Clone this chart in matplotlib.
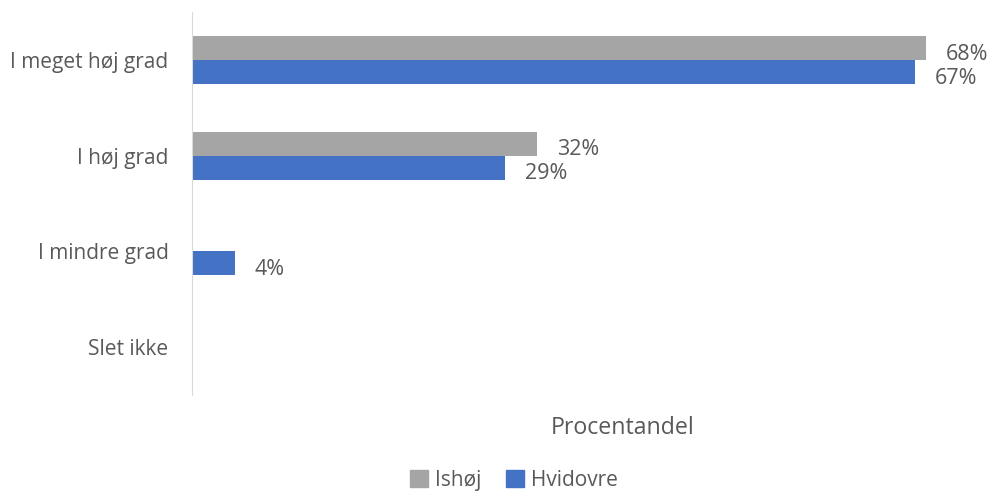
import matplotlib
matplotlib.use("Agg")
import matplotlib.pyplot as plt
import numpy as np

categories = ["I meget høj grad", "I høj grad", "I mindre grad", "Slet ikke"]
series_names = ["Ishøj", "Hvidovre"]
ishoj = [68, 32, None, None]
hvidovre = [67, 29, 4, None]
colors = ["#A5A5A5", "#4472C4"]
text_color = "#595959"

plt.rcParams["font.family"] = ["Open Sans", "DejaVu Sans"]

fig = plt.figure(figsize=(9.9, 4.94), dpi=100)
ax = fig.add_axes([192 / 990, 1 - 395 / 494, 0.796, 383 / 494])

y = np.arange(len(categories))
h = 0.25
for i, (name, vals) in enumerate(zip(series_names, [ishoj, hvidovre])):
    offset = -h / 2 if i == 0 else h / 2
    for yi, v in zip(y, vals):
        if v is None:
            continue
        ax.barh(yi + offset, v, height=h, color=colors[i])
        ax.annotate(f"{v}%", (v, yi + offset), xytext=(14, -4.5), textcoords="offset points",
                    ha="left", va="center", fontsize=15.5, color=text_color)

ax.set_xlim(0, 73)
ax.set_ylim(len(categories) - 0.5, -0.5)
ax.set_yticks(y)
ax.set_yticklabels(categories, fontsize=15, color=text_color)
ax.tick_params(axis="y", length=0, pad=17)
ax.set_xticks([])
for s in ["top", "right", "bottom"]:
    ax.spines[s].set_visible(False)
ax.spines["left"].set_color("#D9D9D9")

fig.text(623 / 990, 1 - 428 / 494, "Procentandel", ha="center", va="center", fontsize=16.7, color=text_color)

handles = [plt.Rectangle((0, 0), 1, 1, color=c) for c in colors]
fig.legend(handles, series_names, loc="center", bbox_to_anchor=(514 / 990, 1 - 480 / 494), ncol=2,
           frameon=False, fontsize=15, handlelength=0.85, handleheight=0.85, handletextpad=0.35,
           columnspacing=1.2, labelcolor=text_color)

plt.savefig("out.png")
